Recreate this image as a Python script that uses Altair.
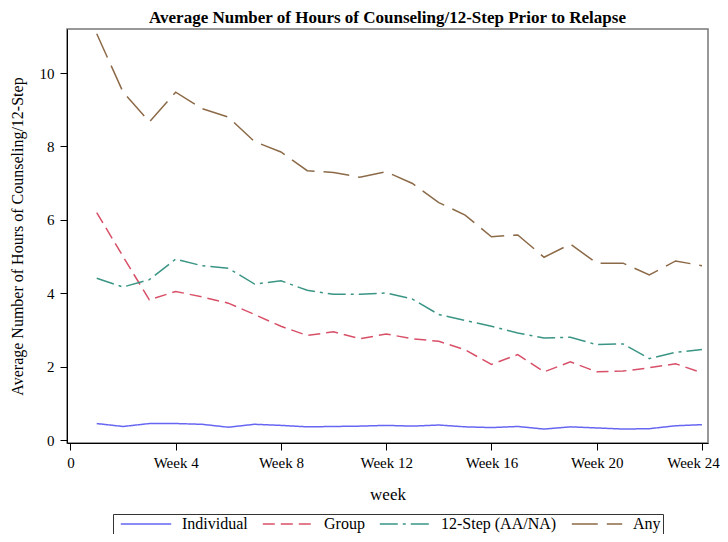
import altair as alt
import pandas as pd

weeks = list(range(1, 25))
series = ["Individual", "Group", "12-Step (AA/NA)", "Any"]

individual = [0.45, 0.37, 0.45, 0.45, 0.43, 0.35, 0.43, 0.40, 0.36, 0.37, 0.38, 0.40,
              0.38, 0.41, 0.36, 0.34, 0.37, 0.30, 0.36, 0.33, 0.30, 0.31, 0.39, 0.42]
group = [6.20, 5.00, 3.82, 4.05, 3.90, 3.73, 3.42, 3.10, 2.85, 2.95, 2.76, 2.89,
         2.76, 2.69, 2.46, 2.06, 2.33, 1.86, 2.13, 1.86, 1.88, 1.97, 2.08, 1.83]
twelve_step = [4.41, 4.17, 4.37, 4.93, 4.75, 4.68, 4.25, 4.34, 4.08, 3.97, 3.97, 4.01,
               3.84, 3.42, 3.26, 3.10, 2.92, 2.78, 2.80, 2.60, 2.62, 2.22, 2.39, 2.47]
any_ = [11.07, 9.48, 8.67, 9.48, 9.03, 8.80, 8.13, 7.85, 7.34, 7.29, 7.16, 7.31,
        6.99, 6.47, 6.13, 5.54, 5.59, 4.98, 5.34, 4.82, 4.82, 4.50, 4.88, 4.75]

x_ticks = [0, 4, 8, 12, 16, 20, 24]
y_ticks = [0, 2, 4, 6, 8, 10]

rows = []
for name, vals in zip(series, [individual, group, twelve_step, any_]):
    for w, v in zip(weeks, vals):
        rows.append({"week": w, "hours": v, "series": name})
df = pd.DataFrame(rows)

colors = ["#6666f2", "#d85068", "#3a9585", "#8c6a48"]
dashes = [[1, 0], [12, 6], [18, 5, 3, 5], [26, 9]]

FONT = "Liberation Serif"

leg = alt.Legend(
    title=None, orient="none", legendX=46, legendY=485, direction="horizontal",
    columns=4, symbolType="M-3.6,0H3.6", symbolSize=196, symbolStrokeWidth=1.5,
    labelFont=FONT, labelFontSize=16, labelColor="black", strokeColor="#333",
    padding=2, columnPadding=9, labelOffset=28, symbolOffset=23,
)

chart = alt.Chart(df).mark_line(strokeWidth=1.5).encode(
    x=alt.X("week:Q",
            scale=alt.Scale(domain=[-0.13, 24.23], nice=False, zero=False),
            axis=alt.Axis(values=x_ticks, title="week", grid=False,
                          labelExpr="datum.value == 0 ? '0' : 'Week ' + datum.value",
                          labelOffset={"condition": {"test": "datum.value == 24", "value": -9},
                                       "value": 0},
                          tickSize=7, labelPadding=5, titlePadding=16,
                          labelFont=FONT, labelFontSize=15, titleFont=FONT,
                          titleFontSize=17, titleFontWeight="normal",
                          domainColor="black", tickColor="black",
                          labelColor="black", titleColor="black")),
    y=alt.Y("hours:Q",
            scale=alt.Scale(domain=[-0.08, 11.2], nice=False, zero=False),
            axis=alt.Axis(values=y_ticks, title="Average Number of Hours of Counseling/12-Step",
                          grid=False, tickSize=7, labelPadding=6, titlePadding=14,
                          labelFont=FONT, labelFontSize=15, titleFont=FONT,
                          titleFontSize=16, titleFontWeight="normal",
                          domainColor="black", tickColor="black",
                          labelColor="black", titleColor="black")),
    color=alt.Color("series:N", scale=alt.Scale(domain=series, range=colors),
                    sort=series, legend=leg),
    strokeDash=alt.StrokeDash("series:N", scale=alt.Scale(domain=series, range=dashes),
                              sort=series, legend=leg),
).properties(
    width=641, height=414,
    title=alt.TitleParams("Average Number of Hours of Counseling/12-Step Prior to Relapse",
                          font=FONT, fontSize=17, fontWeight="bold", anchor="middle",
                          offset=2, color="black"),
    autosize=alt.AutoSizeParams(type="none"),
    padding={"left": 59, "top": 21, "right": 12, "bottom": 91},
).configure(font=FONT).configure_legend(labelFont=FONT, labelFontSize=16).configure_view(
    stroke="#777", strokeWidth=1.5)

chart.save("out.html", embed_options={"renderer": "svg", "actions": False})
